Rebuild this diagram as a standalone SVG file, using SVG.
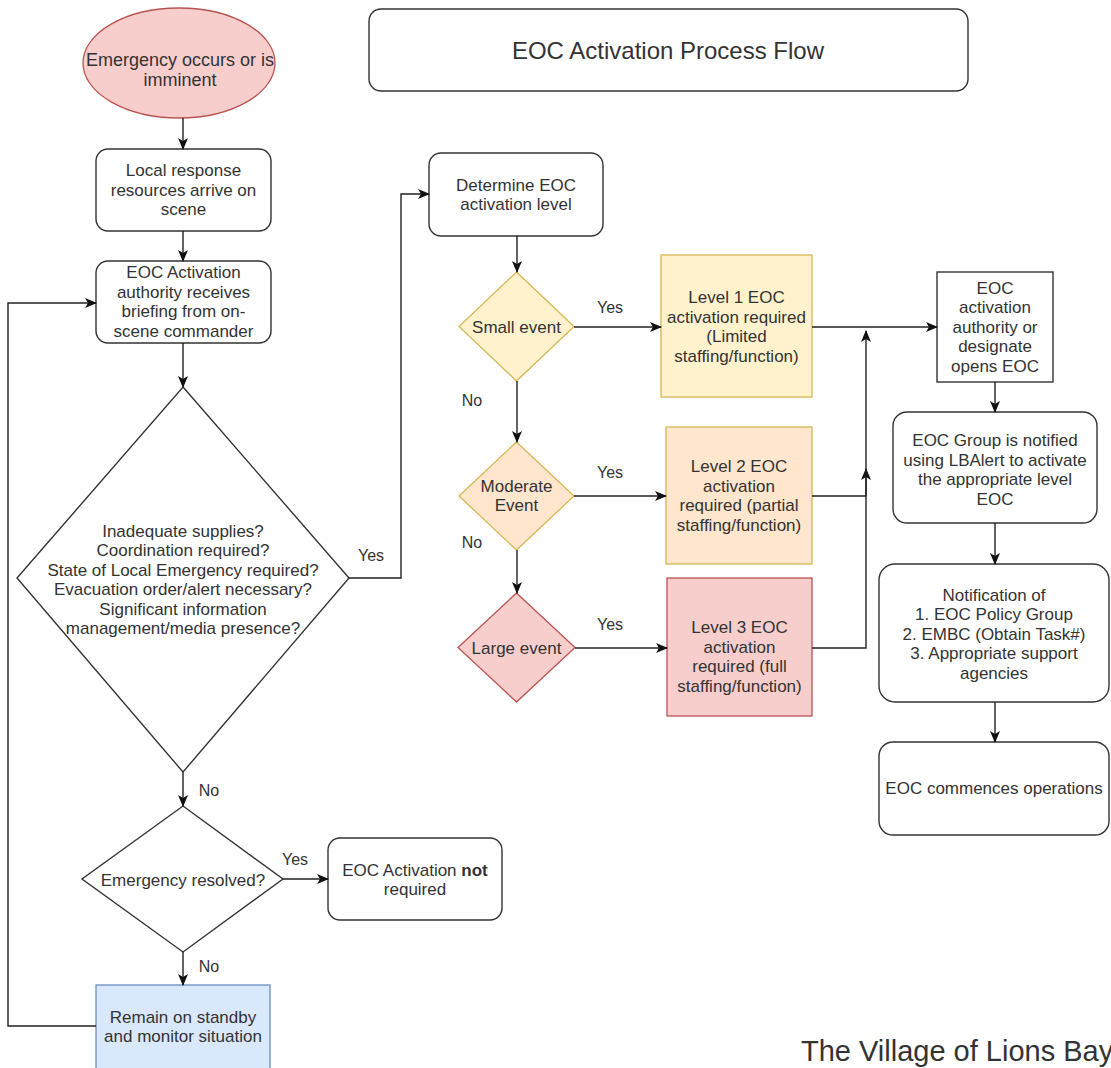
<svg xmlns="http://www.w3.org/2000/svg" width="1111" height="1068" viewBox="0 0 1111 1068">
<style>
text{font-family:"Liberation Sans",Arial,sans-serif;font-size:17px;fill:#333;text-anchor:middle;dominant-baseline:central}
.box{fill:#fff;stroke:#333;stroke-width:1.4}
.yel{fill:#fff2cc;stroke:#d6b656;stroke-width:1.3}
.ora{fill:#ffe6cc;stroke:#d6b656;stroke-width:1.3}
.red{fill:#f8cecc;stroke:#b85450;stroke-width:1.3}
.blu{fill:#dae8fc;stroke:#6c8ebf;stroke-width:1.3}
.edge{fill:none;stroke:#222;stroke-width:1.4}
.lbl{font-size:16px}
</style>
<defs>
<marker id="arr" markerUnits="userSpaceOnUse" markerWidth="12" markerHeight="10" viewBox="0 0 12 10" refX="11" refY="5" orient="auto">
<path d="M0,0 L12,5 L0,10 L3,5 z" fill="#111"/>
</marker>
</defs>
<rect width="1111" height="1068" fill="#fff"/>

<g id="title">
<rect class="box" x="369" y="9" width="599" height="82" rx="12"/>
<text x="668" y="50" style="font-size:24px">EOC Activation Process Flow</text>
</g>

<g id="start">
<ellipse cx="179" cy="63" rx="96" ry="55" class="red"/>
<text x="180" y="60" style="font-size:18px">Emergency occurs or is</text>
<text x="180" y="80" style="font-size:18px">imminent</text>
</g>

<g id="local">
<rect class="box" x="96" y="149" width="175" height="82" rx="12"/>
<text x="183.5" y="170.5">Local response</text>
<text x="183.5" y="190">resources arrive on</text>
<text x="183.5" y="209.5">scene</text>
</g>

<g id="briefing">
<rect class="box" x="96" y="261" width="175" height="82" rx="12"/>
<text x="183.5" y="272.75">EOC Activation</text>
<text x="183.5" y="292.25">authority receives</text>
<text x="183.5" y="311.75">briefing from on-</text>
<text x="183.5" y="331.25">scene commander</text>
</g>

<g id="criteria">
<polygon class="box" points="183,387 349,578 183,772 17,578"/>
<text x="183" y="531.25">Inadequate supplies?</text>
<text x="183" y="550.75">Coordination required?</text>
<text x="183" y="570.25">State of Local Emergency required?</text>
<text x="183" y="589.75">Evacuation order/alert necessary?</text>
<text x="183" y="609.25">Significant information</text>
<text x="183" y="628.75">management/media presence?</text>
</g>

<g id="resolved">
<polygon class="box" points="183,806 283,879 183,952 82,879"/>
<text x="183" y="880">Emergency resolved?</text>
</g>

<g id="notrequired">
<rect class="box" x="328" y="838" width="174" height="82" rx="12"/>
<text x="415" y="870.25">EOC Activation <tspan font-weight="bold">not</tspan></text>
<text x="415" y="889.75">required</text>
</g>

<g id="standby">
<rect class="blu" x="96" y="985" width="174" height="90"/>
<text x="183" y="1017">Remain on standby</text>
<text x="183" y="1036.5">and monitor situation</text>
</g>

<g id="determine">
<rect class="box" x="429" y="153" width="174" height="83" rx="12"/>
<text x="516" y="185.25">Determine EOC</text>
<text x="516" y="204.75">activation level</text>
</g>

<g id="small">
<polygon class="yel" points="516.5,272 574,326.5 516.5,381 459,326.5"/>
<text x="516.5" y="327">Small event</text>
</g>

<g id="moderate">
<polygon class="ora" points="516.5,442 574,496 516.5,550 459,496"/>
<text x="516.5" y="486.25">Moderate</text>
<text x="516.5" y="505.75">Event</text>
</g>

<g id="large">
<polygon class="red" points="516.5,593 575,647.5 516.5,702 458,647.5"/>
<text x="516.5" y="648">Large event</text>
</g>

<g id="level1">
<rect class="yel" x="661" y="255" width="151" height="142"/>
<text x="736.5" y="297.75">Level 1 EOC</text>
<text x="736.5" y="317.25">activation required</text>
<text x="736.5" y="336.75">(Limited</text>
<text x="736.5" y="356.25">staffing/function)</text>
</g>

<g id="level2">
<rect class="ora" x="666" y="427" width="146" height="137"/>
<text x="739" y="466.75">Level 2 EOC</text>
<text x="739" y="486.25">activation</text>
<text x="739" y="505.75">required (partial</text>
<text x="739" y="525.25">staffing/function)</text>
</g>

<g id="level3">
<rect class="red" x="667" y="578" width="145" height="138"/>
<text x="739.5" y="627.75">Level 3 EOC</text>
<text x="739.5" y="647.25">activation</text>
<text x="739.5" y="666.75">required (full</text>
<text x="739.5" y="686.25">staffing/function)</text>
</g>

<g id="opens">
<rect class="box" x="937" y="272" width="116" height="110"/>
<text x="995" y="288">EOC</text>
<text x="995" y="307.5">activation</text>
<text x="995" y="327">authority or</text>
<text x="995" y="346.5">designate</text>
<text x="995" y="366">opens EOC</text>
</g>

<g id="notified">
<rect class="box" x="893" y="412" width="204" height="111" rx="14"/>
<text x="995" y="440.75">EOC Group is notified</text>
<text x="995" y="460.25">using LBAlert to activate</text>
<text x="995" y="479.75">the appropriate level</text>
<text x="995" y="499.25">EOC</text>
</g>

<g id="notification">
<rect class="box" x="879" y="564" width="230" height="138" rx="16"/>
<text x="994" y="595">Notification of</text>
<text x="994" y="614.5">1. EOC Policy Group</text>
<text x="994" y="634">2. EMBC (Obtain Task#)</text>
<text x="994" y="653.5">3. Appropriate support</text>
<text x="994" y="673">agencies</text>
</g>

<g id="commences">
<rect class="box" x="879" y="742" width="230" height="93" rx="14"/>
<text x="994" y="788">EOC commences operations</text>
</g>

<g id="connectors">
<path class="edge" marker-end="url(#arr)" d="M183,118 V149"/>
<path class="edge" marker-end="url(#arr)" d="M183,231 V261"/>
<path class="edge" marker-end="url(#arr)" d="M183,343 V387"/>
<path class="edge" marker-end="url(#arr)" d="M183,772 V806"/>
<path class="edge" marker-end="url(#arr)" d="M183,952 V985"/>
<path class="edge" marker-end="url(#arr)" d="M283,879 H328"/>
<path class="edge" marker-end="url(#arr)" d="M96,1026 H8 V303 H96"/>
<path class="edge" marker-end="url(#arr)" d="M349,578 H401 V194 H429"/>
<path class="edge" marker-end="url(#arr)" d="M517,236 V272"/>
<path class="edge" marker-end="url(#arr)" d="M574,327 H661"/>
<path class="edge" marker-end="url(#arr)" d="M517,381 V442"/>
<path class="edge" marker-end="url(#arr)" d="M574,496 H666"/>
<path class="edge" marker-end="url(#arr)" d="M517,550 V593"/>
<path class="edge" marker-end="url(#arr)" d="M575,648 H667"/>
<path class="edge" marker-end="url(#arr)" d="M812,327 H937"/>
<path class="edge" marker-end="url(#arr)" d="M812,496 H866 V469"/>
<path class="edge" marker-end="url(#arr)" d="M812,648 H866 V331"/>
<path class="edge" marker-end="url(#arr)" d="M995,382 V412"/>
<path class="edge" marker-end="url(#arr)" d="M995,523 V564"/>
<path class="edge" marker-end="url(#arr)" d="M995,702 V742"/>
<text class="lbl" x="371" y="555">Yes</text>
<text class="lbl" x="209" y="790">No</text>
<text class="lbl" x="295" y="859">Yes</text>
<text class="lbl" x="209" y="966">No</text>
<text class="lbl" x="610" y="307">Yes</text>
<text class="lbl" x="472" y="400">No</text>
<text class="lbl" x="610" y="472">Yes</text>
<text class="lbl" x="472" y="542">No</text>
<text class="lbl" x="610" y="624">Yes</text>
</g>

<text x="801" y="1061" style="font-size:29px;text-anchor:start;dominant-baseline:auto">The Village of Lions Bay</text>
</svg>
